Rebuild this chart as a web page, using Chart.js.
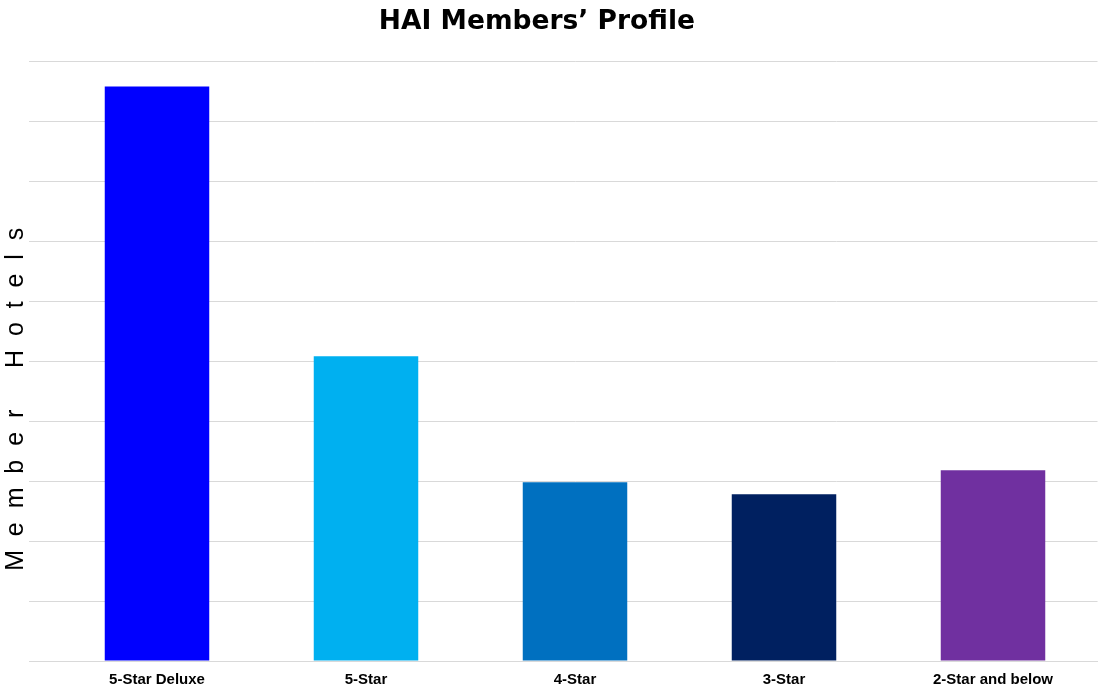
<!DOCTYPE html>
<html lang="en">
<head>
  <meta charset="UTF-8" />
  <title>HAI Members' Profile</title>
  <script src="https://cdn.jsdelivr.net/npm/chart.js"></script>
  <style>
    html, body {
      margin: 0;
      padding: 0;
      background: #ffffff;
    }
    .wrap {
      width: 1100px;
      height: 695px;
    }
    canvas {
      display: block;
    }
  </style>
</head>
<body>

<div class="wrap">
  <canvas id="profileChart" width="1100" height="695"></canvas>
</div>

<script>
  // data (no tick labels, so arbitrary units 0-100)
  const categories = ['5-Star Deluxe', '5-Star', '4-Star', '3-Star', '2-Star and below'];
  const memberHotels = [95.8, 50.8, 29.8, 27.8, 31.8];
  const barColors = ['#0000ff', '#00b0f0', '#0070c0', '#002060', '#7030a0'];

  // spaced out like the original axis caption, trailing spaces push it down a bit
  const yTitle = 'M  e  m  b  e  r      H  o  t  e  l  s' + ' '.repeat(11);
  // trailing spaces nudge the centred title a little to the left
  const chartTitle = 'HAI Members’ Profile' + '   ';

  const ctx = document.getElementById('profileChart').getContext('2d');

  new Chart(ctx, {
    type: 'bar',
    data: {
      labels: categories,
      datasets: [{
        label: 'Member Hotels',
        data: memberHotels,
        backgroundColor: barColors,
        borderWidth: 0,
        categoryPercentage: 1,
        barPercentage: 0.5
      }]
    },
    options: {
      responsive: false,
      animation: false,
      layout: {
        padding: { left: 4, right: 2.5, top: 0, bottom: -4 }
      },
      plugins: {
        legend: { display: false },
        tooltip: { enabled: false },
        title: {
          display: true,
          text: chartTitle,
          color: '#000000',
          font: { family: "'DejaVu Sans', sans-serif", size: 26.5, weight: 'bold', lineHeight: 1.2 },
          padding: { top: 6, bottom: 23.4 }
        }
      },
      scales: {
        x: {
          grid: { display: false, drawTicks: false, tickLength: 0 },
          border: { display: true, color: '#d9d9d9', width: 1 },
          ticks: {
            color: '#000000',
            padding: 10,
            font: { family: "'Liberation Sans', Arial, sans-serif", size: 15, weight: 'bold', lineHeight: 1.2 }
          }
        },
        y: {
          min: 0,
          max: 100,
          grid: {
            color: '#d9d9d9',
            lineWidth: 1,
            drawTicks: true,
            tickLength: 23.5,
            tickColor: '#d9d9d9'
          },
          border: { display: false },
          ticks: { display: false, stepSize: 10 },
          title: {
            display: true,
            text: yTitle,
            color: '#000000',
            padding: 0,
            font: { family: "'Liberation Sans', Arial, sans-serif", size: 25, weight: 'normal', lineHeight: 1 }
          }
        }
      }
    }
  });
</script>
</body>
</html>
